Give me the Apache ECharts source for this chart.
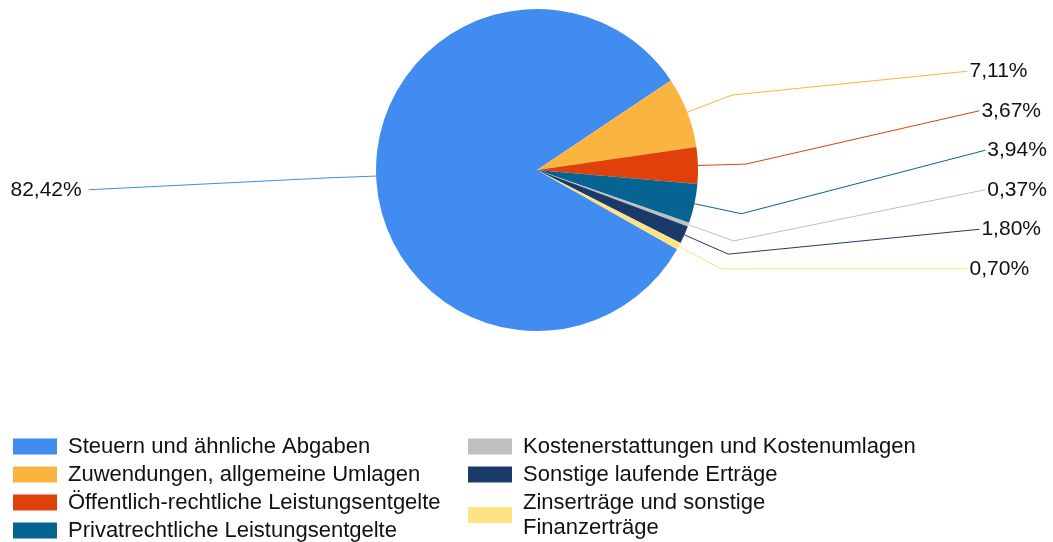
<!DOCTYPE html>
<html>
<head>
<meta charset="utf-8">
<script src="https://cdn.jsdelivr.net/npm/echarts@6/dist/echarts.min.js"></script>
<style>
  html, body { margin: 0; padding: 0; background: #fff; }
  #chart { width: 1053px; height: 542px; }
</style>
</head>
<body>
<div id="chart"></div>
<script>
// Ertragsarten (Anteile in %)
const categories = [
  "Steuern und ähnliche Abgaben",
  "Zuwendungen, allgemeine Umlagen",
  "Öffentlich-rechtliche Leistungsentgelte",
  "Privatrechtliche Leistungsentgelte",
  "Kostenerstattungen und Kostenumlagen",
  "Sonstige laufende Erträge",
  "Zinserträge und sonstige Finanzerträge",
];
const shares = [82.42, 7.11, 3.67, 3.94, 0.37, 1.80, 0.70];
const colors = ["#418CF0", "#FCB441", "#E0400A", "#056492", "#BFBFBF", "#1A3B69", "#FFE382"];

// layout
const CX = 537, CY = 170, R = 161, START = -29.5, LINE_LEN = 48;
const SLOT_GAP = 39.5, SLOT_COUNT = 6, ELL_A = 449, ELL_B = 348;
const FONT = "'Liberation Sans', Arial, sans-serif";

// label slots like the original: evenly spaced rows, x on an ellipse
const total = shares.reduce((a, b) => a + b, 0);
let acc = 0;
const mids = shares.map((v) => {
  const a = START - ((acc + v / 2) / total) * 360;
  acc += v;
  return (a * Math.PI) / 180;
});
const slotY = [];
for (let k = 0; k < SLOT_COUNT; k++) slotY.push(CY + (k - (SLOT_COUNT - 1) / 2) * SLOT_GAP);

const isRight = mids.map((m) => Math.cos(m) >= 0);
const elbowY = mids.map((m) => CY - Math.sin(m) * (R + LINE_LEN));
const labelY = [];
const rightIdx = shares.map((_, i) => i).filter((i) => isRight[i]).sort((a, b) => elbowY[a] - elbowY[b]);
const off = Math.max(0, Math.floor((SLOT_COUNT - rightIdx.length) / 2));
rightIdx.forEach((i, k) => { labelY[i] = slotY[Math.min(k + off, SLOT_COUNT - 1)]; });
shares.forEach((_, i) => {
  if (isRight[i]) return;
  let best = slotY[0];
  slotY.forEach((y) => { if (Math.abs(y - elbowY[i]) < Math.abs(best - elbowY[i])) best = y; });
  labelY[i] = best;
});

const fmt = (v) => v.toFixed(2).replace(".", ",") + "%";

const legendBase = {
  orient: "vertical",
  top: 434,
  height: 200,
  padding: 0,
  itemWidth: 44,
  itemHeight: 16,
  itemGap: 3,
  icon: "rect",
  selectedMode: false,
  textStyle: {
    color: "#111",
    fontSize: 22,
    fontFamily: FONT,
    lineHeight: 25,
    padding: [0, 0, 0, 6],
  },
  formatter: (name) => name.replace(" und sonstige ", " und sonstige\n"),
};

const chart = echarts.init(document.getElementById("chart"));
chart.setOption({
  animation: false,
  color: colors,
  legend: [
    Object.assign({}, legendBase, { left: 13, data: categories.slice(0, 4) }),
    Object.assign({}, legendBase, { left: 468, data: categories.slice(4) }),
  ],
  series: [
    {
      type: "pie",
      center: [CX, CY],
      radius: R,
      startAngle: START,
      clockwise: true,
      avoidLabelOverlap: false,
      data: categories.map((c, i) => ({ name: c, value: shares[i] })),
      label: {
        formatter: (p) => fmt(p.value),
        color: "#111",
        fontSize: 21,
        fontFamily: FONT,
      },
      labelLine: {
        length: LINE_LEN,
        length2: 10,
        lineStyle: { width: 1 },
      },
      labelLayout: (params) => {
        const i = params.dataIndex;
        const y = labelY[i];
        const dy = y - CY;
        const dx = ELL_A * Math.sqrt(Math.max(0, 1 - (dy / ELL_B) * (dy / ELL_B)));
        const right = isRight[i];
        const lx = right ? CX + dx : CX - dx;
        const p = params.labelLinePoints;
        return {
          x: right ? lx + 2 : lx - 7,
          y: y,
          align: right ? "left" : "right",
          verticalAlign: "middle",
          labelLinePoints: [p[0], p[1], [lx, y]],
        };
      },
      emphasis: { disabled: true },
    },
  ],
});
</script>
</body>
</html>
